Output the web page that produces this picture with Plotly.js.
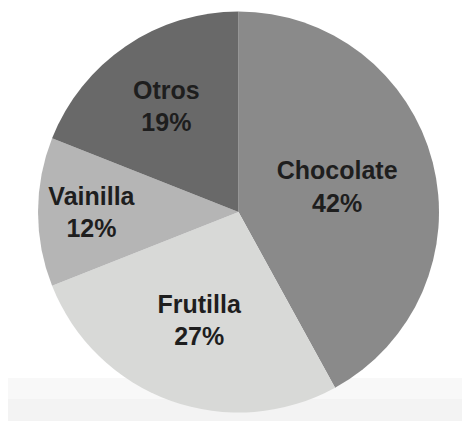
<!DOCTYPE html>
<html>
<head>
<meta charset="utf-8">
<script src="https://cdn.plot.ly/plotly-3.0.1.min.js"></script>
<style>html,body{margin:0;padding:0;background:#fff;}#chart{width:462px;height:421px;}</style>
</head>
<body>
<div id="chart"></div>
<script>
var labels = ["Chocolate", "Frutilla", "Vainilla", "Otros"];
var values = [42, 27, 12, 19];
var colors = ["#8a8a8a", "#d8d9d7", "#b5b5b5", "#696969"];

var trace = {
  type: "pie",
  labels: labels,
  values: values,
  sort: false,
  direction: "clockwise",
  rotation: 0,
  marker: {colors: colors, line: {width: 0}},
  textinfo: "label+percent",
  textposition: "inside",
  insidetextorientation: "horizontal",
  insidetextfont: {family: "Liberation Sans, Arial, sans-serif", size: 25, color: "#1e1e1e", weight: "bold"},
  hoverinfo: "none",
  domain: {x: [38/462, 439/462], y: [1 - 413/421, 1 - 11/421]},
  showlegend: false
};

var layout = {
  width: 462,
  height: 421,
  margin: {l: 0, r: 0, t: 0, b: 0},
  paper_bgcolor: "#ffffff",
  showlegend: false,
  shapes: [
    {type: "rect", xref: "paper", yref: "paper", x0: 8/462, x1: 1, y0: 0, y1: 43/421,
     fillcolor: "#f8f8f8", line: {width: 0}, layer: "below"},
    {type: "rect", xref: "paper", yref: "paper", x0: 8/462, x1: 1, y0: 0, y1: 22/421,
     fillcolor: "#f3f3f3", line: {width: 0}, layer: "below"}
  ]
};

Plotly.newPlot("chart", [trace], layout, {displayModeBar: false, staticPlot: true});
</script>
</body>
</html>
